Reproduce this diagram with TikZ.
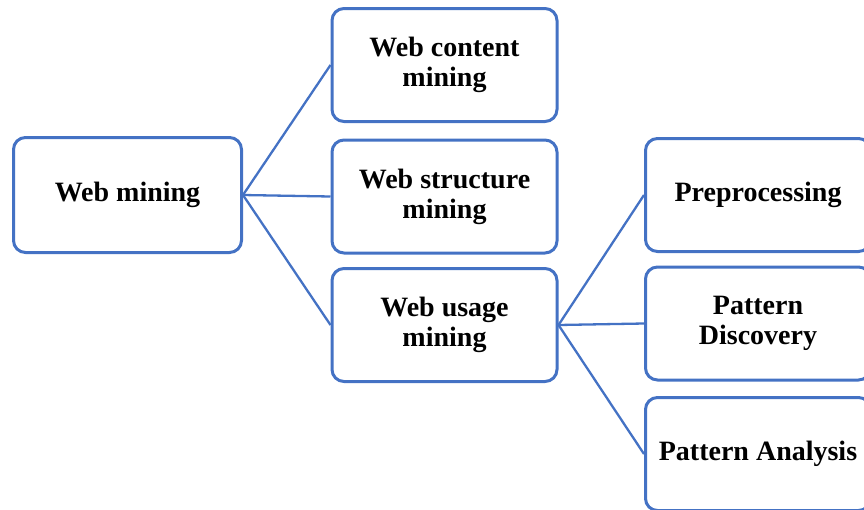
\documentclass[tikz,border=0pt]{standalone}
\usepackage{fontspec}
\setmainfont{Liberation Serif}
\definecolor{boxblue}{RGB}{68,114,196}
\begin{document}
\begin{tikzpicture}[x=1pt,y=-1pt,
  box/.style={draw=boxblue, line width=3pt, rounded corners=12pt, fill=white,
    minimum width=225pt, minimum height=113pt, align=center, inner sep=2pt,
    font=\fontsize{28}{30}\selectfont\bfseries},
  link/.style={draw=boxblue, line width=2.3pt}]
\useasboundingbox (0,0) rectangle (864,509);
\clip (0,0) rectangle (864,509);
\node[box, minimum width=228pt, minimum height=115pt] (wm) at (127.5,195) {Web mining};
\node[box] (wc) at (444.5,65) {Web content\\mining};
\node[box] (ws) at (444.5,196.5) {Web structure\\mining};
\node[box] (wu) at (444.5,325) {Web usage\\mining};
\node[box] (pp) at (758,195) {Preprocessing};
\node[box] (pd) at (758,323.5) {Pattern\\Discovery};
\node[box] (pa) at (758,454) {Pattern Analysis};
\draw[link] (wm.east) -- (wc.west);
\draw[link] (wm.east) -- (ws.west);
\draw[link] (wm.east) -- (wu.west);
\draw[link] (wu.east) -- (pp.west);
\draw[link] (wu.east) -- (pd.west);
\draw[link] (wu.east) -- (pa.west);
\end{tikzpicture}
\end{document}
